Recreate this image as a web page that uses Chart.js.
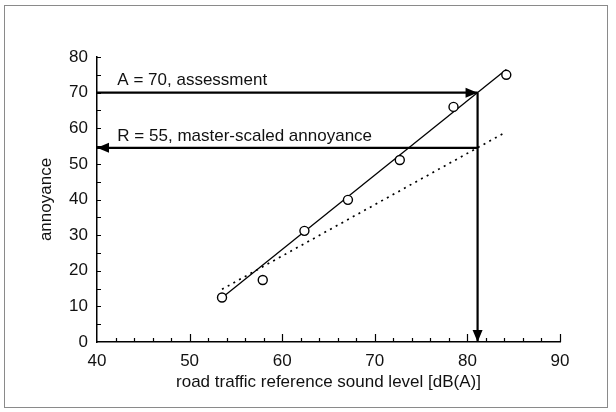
<!DOCTYPE html>
<html>
<head>
<meta charset="utf-8">
<script src="https://cdn.jsdelivr.net/npm/chart.js@4/dist/chart.umd.min.js"></script>
<style>
  html, body { margin: 0; padding: 0; background: #fff; }
  #wrap { position: relative; width: 616px; height: 412px; }
  #frame { position: absolute; left: 4px; top: 5px; width: 604px; height: 403px; border: 1.5px solid #8a8a8a; box-sizing: border-box; pointer-events: none; }
</style>
</head>
<body>
<div id="wrap">
  <canvas id="chart" width="616" height="412"></canvas>
  <div id="frame"></div>
</div>
<script>
// measured points (road traffic level vs annoyance)
const soundLevel = [53.5, 57.9, 62.4, 67.1, 72.7, 78.5, 84.2]
const annoyance = [12.5, 17.4, 31.2, 39.9, 51.1, 66.0, 75.0]

// fitted lines, end points
const fitX = [53.5, 84.2]
const fitSolid = [12.4, 76.5]
const fitDotted = [14.8, 59.0]

// assessment / master-scaled arrows
const crossLevel = 81.1
const assessValue = 70
const masterValue = 54.5

const xTicks = [40, 50, 60, 70, 80, 90]
const yTicks = [0, 10, 20, 30, 40, 50, 60, 70, 80]

const notes = [
  { text: 'A = 70, assessment', x: 42.2, y: 73.5 },
  { text: 'R = 55, master-scaled annoyance', x: 42.2, y: 57.8 }
]

const FONT = "'Liberation Sans', Arial, Helvetica, sans-serif"

const pts = (xs, ys) => xs.map((x, i) => ({ x, y: ys[i] }))

const arrowA = [{ x: xTicks[0], y: assessValue }, { x: crossLevel, y: assessValue }]
const arrowDown = [{ x: crossLevel, y: assessValue }, { x: crossLevel, y: yTicks[0] }]
const arrowR = [{ x: crossLevel, y: masterValue }, { x: xTicks[0], y: masterValue }]

const extras = {
  id: 'extras',
  afterDatasetsDraw(chart) {
    const { ctx, scales: { x, y } } = chart
    const bottom = y.getPixelForValue(0)
    const left = x.getPixelForValue(40)
    ctx.save()
    ctx.strokeStyle = '#000'
    ctx.lineWidth = 1.2
    ctx.beginPath()
    for (let v = 42; v <= 90; v += 2) {
      const px = Math.round(x.getPixelForValue(v)) + 0.5
      const len = v % 10 === 0 ? 8 : 4
      ctx.moveTo(px, bottom)
      ctx.lineTo(px, bottom - len)
    }
    for (let v = 5; v <= 80; v += 5) {
      const py = Math.round(y.getPixelForValue(v)) + 0.5
      ctx.moveTo(left, py)
      ctx.lineTo(left + 4, py)
    }
    ctx.stroke()

    // arrow heads
    ctx.fillStyle = '#000'
    for (const arr of [arrowA, arrowDown, arrowR]) {
      const a = arr[0], b = arr[1]
      const x0 = x.getPixelForValue(a.x), y0 = y.getPixelForValue(a.y)
      const x1 = x.getPixelForValue(b.x), y1 = y.getPixelForValue(b.y)
      const ang = Math.atan2(y1 - y0, x1 - x0)
      const L = 12, W = 5
      ctx.beginPath()
      ctx.moveTo(x1, y1)
      ctx.lineTo(x1 - L * Math.cos(ang) - W * Math.sin(ang), y1 - L * Math.sin(ang) + W * Math.cos(ang))
      ctx.lineTo(x1 - L * Math.cos(ang) + W * Math.sin(ang), y1 - L * Math.sin(ang) - W * Math.cos(ang))
      ctx.closePath()
      ctx.fill()
    }

    ctx.font = '17px ' + FONT
    ctx.fillStyle = '#111'
    ctx.textAlign = 'left'
    ctx.textBaseline = 'middle'
    notes.forEach(n => ctx.fillText(n.text, x.getPixelForValue(n.x), y.getPixelForValue(n.y)))
    ctx.restore()
  }
}

new Chart(document.getElementById('chart'), {
  type: 'scatter',
  data: {
    datasets: [
      {
        data: pts(soundLevel, annoyance),
        pointStyle: 'circle',
        pointRadius: 4.5,
        pointBorderWidth: 1.4,
        pointBackgroundColor: '#fff',
        pointBorderColor: '#000',
        showLine: false,
        order: 0
      },
      {
        data: pts(fitX, fitSolid),
        showLine: true,
        borderColor: '#000',
        borderWidth: 1.3,
        pointRadius: 0,
        order: 2
      },
      {
        data: pts(fitX, fitDotted),
        showLine: true,
        borderColor: '#000',
        borderWidth: 1.7,
        borderDash: [2, 4.5],
        pointRadius: 0,
        order: 2
      },
      { data: arrowA, showLine: true, borderColor: '#000', borderWidth: 2.2, pointRadius: 0, order: 1 },
      { data: arrowDown, showLine: true, borderColor: '#000', borderWidth: 2.2, pointRadius: 0, order: 1 },
      { data: arrowR, showLine: true, borderColor: '#000', borderWidth: 2.2, pointRadius: 0, order: 1 }
    ]
  },
  options: {
    responsive: false,
    animation: false,
    layout: { padding: { left: 0, top: 57, right: 56, bottom: 0 } },
    plugins: {
      legend: { display: false },
      tooltip: { enabled: false }
    },
    scales: {
      x: {
        type: 'linear',
        min: 40,
        max: 90,
        afterFit: s => { s.height = 70 },
        afterBuildTicks: s => { s.ticks = xTicks.map(v => ({ value: v })) },
        grid: { display: false, drawTicks: false },
        border: { display: true, color: '#000', width: 1.5 },
        ticks: { color: '#111', padding: 9, font: { family: FONT, size: 17 } },
        title: {
          display: true,
          text: 'road traffic reference sound level [dB(A)]',
          color: '#111',
          padding: { top: 0, bottom: 19 },
          font: { family: FONT, size: 17 }
        }
      },
      y: {
        type: 'linear',
        min: 0,
        max: 80,
        afterFit: s => { s.width = 97 },
        afterBuildTicks: s => { s.ticks = yTicks.map(v => ({ value: v })) },
        grid: { display: false, drawTicks: false },
        border: { display: true, color: '#000', width: 1.5 },
        ticks: { color: '#111', padding: 9, font: { family: FONT, size: 17 } },
        title: {
          display: true,
          text: 'annoyance',
          color: '#111',
          padding: { top: 36, bottom: 0 },
          font: { family: FONT, size: 17 }
        }
      }
    }
  },
  plugins: [extras]
})
</script>
</body>
</html>
